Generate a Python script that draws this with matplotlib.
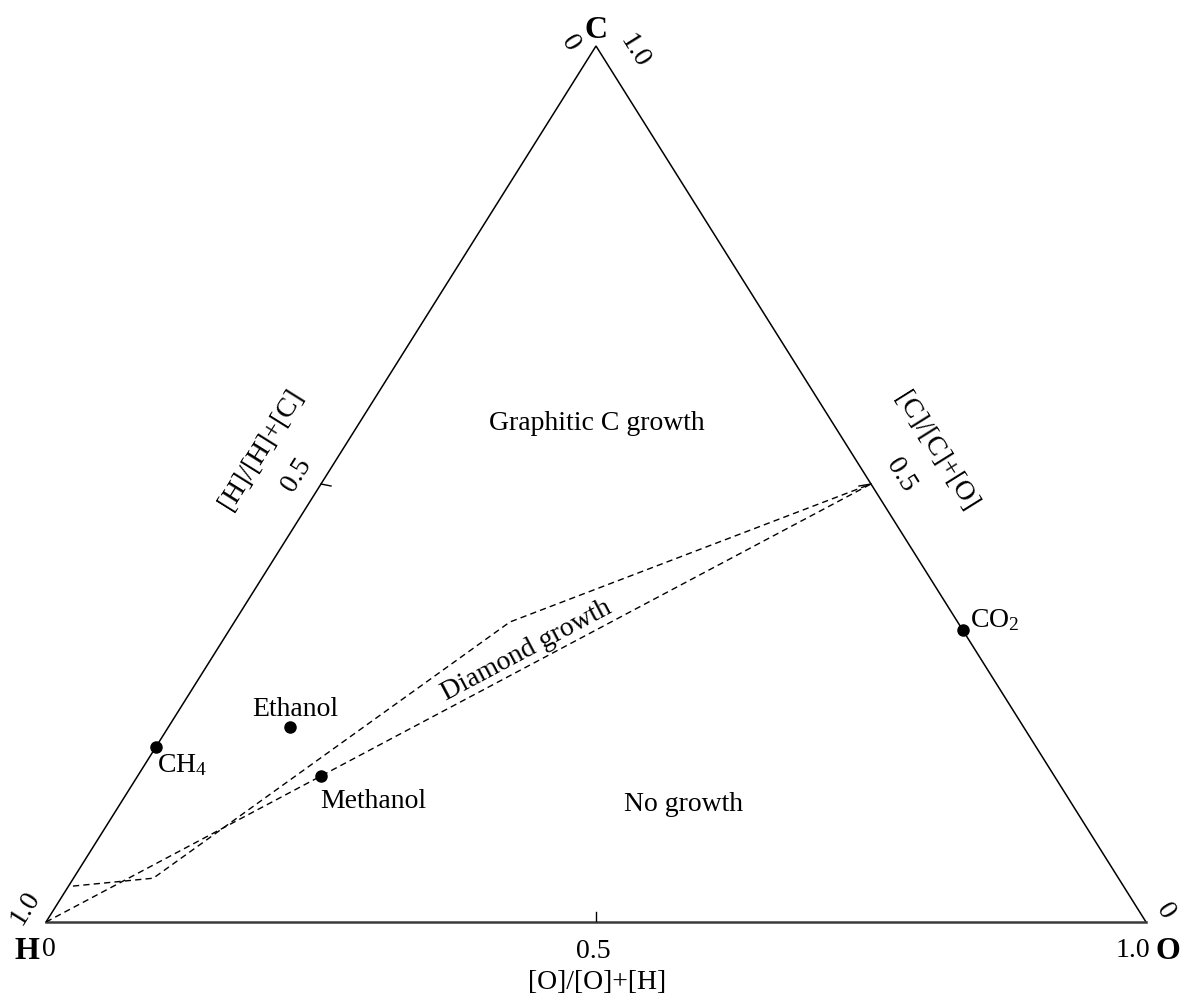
import matplotlib
matplotlib.use("Agg")
import matplotlib.pyplot as plt

plt.rcParams['font.family'] = ['Liberation Serif', 'DejaVu Serif']
plt.rcParams['mathtext.fontset'] = 'custom'
plt.rcParams['mathtext.rm'] = 'Liberation Serif'
plt.rcParams['mathtext.it'] = 'Liberation Serif:italic'
plt.rcParams['mathtext.bf'] = 'Liberation Serif:bold'

# Molar fractions of C and O for each gas (H = 1 - C - O)
species = ["CH$_4$", "Ethanol", "Methanol", "CO$_2$"]
frac_C = [1 / 5, 2 / 9, 1 / 6, 1 / 3]
frac_O = [0.0, 1 / 9, 1 / 6, 2 / 3]

# Boundaries of the diamond-growth domain (C and O fractions)
upper_C = [0.041, 0.050, 0.3425, 0.5]
upper_O = [0.004, 0.0725, 0.2505, 0.5]
lower_C = [0.0, 0.5]
lower_O = [0.0, 0.5]

tick_value = 0.5

W, H = 1183, 997
fig = plt.figure(figsize=(W / 100, H / 100), dpi=100)
# triangle corners in pixels: H (46, 922), O (1146, 922), C apex at y = 46
X0, X1, YB, YT = 46, 1146, 922, 46
ax = fig.add_axes([X0 / W, (H - YB) / H, (X1 - X0) / W, (YB - YT) / H])
ax.set_xlim(0, 1)
ax.set_ylim(0, 1)
ax.axis('off')


def tern(c, o):
    """Ternary (C, O) fractions -> plot coordinates."""
    if hasattr(c, '__len__'):
        return [oi + ci / 2 for ci, oi in zip(c, o)], list(c)
    return o + c / 2, c


def pix(px, py):
    """Pixel position -> plot coordinates (used for placing text)."""
    return (px - X0) / (X1 - X0), (YB - py) / (YB - YT)


# Triangle outline
ax.plot([0, 0.5, 1], [0, 1, 0], color='black', lw=1.1, clip_on=False,
        solid_joinstyle='miter')
ax.plot([0, 1], [0, 0], color='#3a3a3a', lw=1.8, clip_on=False)

# Mid-edge ticks
tx, ty = tern(0.0, tick_value)
ax.plot([tx, tx], [0, 10 / (YB - YT)], color='black', lw=1.0)
lx, ly = tern(tick_value, 0.0)
ax.plot([lx, lx + 10 / (X1 - X0)], [ly, ly - 2 / (YB - YT)], color='black', lw=1.0)
rx, ry = tern(tick_value, 1 - tick_value)
ax.plot([rx, rx - 12 / (X1 - X0)], [ry, ry - 2 / (YB - YT)], color='black', lw=1.0)

# Diamond growth domain
dash = (0, (4.5, 3))
ux, uy = tern(upper_C, upper_O)
ax.plot(ux, uy, color='black', lw=1.0, linestyle=dash)
lwx, lwy = tern(lower_C, lower_O)
ax.plot(lwx, lwy, color='black', lw=1.0, linestyle=dash)

# Gas compositions
px_, py_ = tern(frac_C, frac_O)
ax.plot(px_, py_, 'o', color='black', ms=8, clip_on=False)

fs = 20
# Species labels (offsets in pixels to the text baseline)
offsets = {
    "CH$_4$": ((1, -25), 'left'),
    "Ethanol": ((5, 11), 'center'),
    "Methanol": ((-1, -32), 'left'),
    "CO$_2$": ((7, 3), 'left'),
}
for name, x, y in zip(species, px_, py_):
    (dx, dy), ha = offsets[name]
    ax.annotate(name, (x, y), xytext=(dx, dy), textcoords='offset pixels',
                ha=ha, va='baseline', fontsize=fs)

# Region labels
ax.text(*pix(597, 430), "Graphitic C growth", ha='center', va='baseline', fontsize=fs)
ax.text(*pix(683, 811), "No growth", ha='center', va='baseline', fontsize=fs)
ax.text(*pix(527, 651), "Diamond growth", ha='center', va='center', fontsize=fs,
        rotation=28, rotation_mode='anchor')

# Corner labels
bold = dict(ha='center', va='center', fontsize=23, fontweight='bold', clip_on=False)
ax.text(*pix(596, 30), "C", **bold)
ax.text(*pix(27, 951), "H", **bold)
ax.text(*pix(1168, 951), "O", **bold)

# Scale values at the corners
ax.text(*pix(570, 43), "0", ha='center', va='center', fontsize=fs, rotation=-58,
        clip_on=False)
ax.text(*pix(634, 51), "1.0", ha='center', va='center', fontsize=fs, rotation=-58,
        clip_on=False)
ax.text(*pix(25, 908), "1.0", ha='center', va='center', fontsize=fs, rotation=58,
        clip_on=False)
ax.text(*pix(49, 949), "0", ha='center', va='center', fontsize=fs, clip_on=False)
ax.text(*pix(1133, 950), "1.0", ha='center', va='center', fontsize=fs, clip_on=False)
ax.text(*pix(1165, 911), "0", ha='center', va='center', fontsize=fs, rotation=-58,
        clip_on=False)

# Axis values and titles
ax.text(*pix(593, 951), "0.5", ha='center', va='center', fontsize=fs, clip_on=False)
ax.text(*pix(597, 982), "[O]/[O]+[H]", ha='center', va='center', fontsize=fs,
        clip_on=False)
ax.text(*pix(297, 475), "0.5", ha='center', va='center', fontsize=fs, rotation=58)
ax.text(*pix(261, 450), "[H]/[H]+[C]", ha='center', va='center', fontsize=fs,
        rotation=58)
ax.text(*pix(901, 475), "0.5", ha='center', va='center', fontsize=fs, rotation=-58)
ax.text(*pix(936, 452), "[C]/[C]+[O]", ha='center', va='center', fontsize=fs,
        rotation=-58)

fig.savefig("out.png", dpi=100, facecolor='white')
